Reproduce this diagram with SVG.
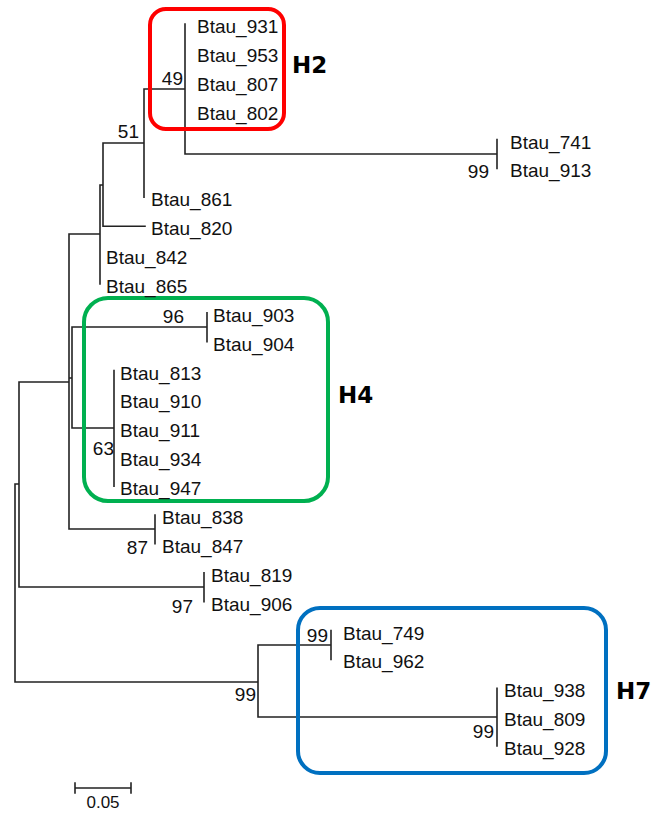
<svg xmlns="http://www.w3.org/2000/svg" width="651" height="813" viewBox="0 0 651 813">
<style>
.br{fill:none;stroke:#222;stroke-width:1.6;stroke-linecap:square}
.lf{font-family:"Liberation Sans",Arial,sans-serif;font-size:19px;fill:#111}
.bs{font-family:"Liberation Sans",Arial,sans-serif;font-size:19px;fill:#111;text-anchor:end}
.hl{font-family:"DejaVu Sans","Liberation Sans",sans-serif;font-size:23px;font-weight:bold;fill:#000}
.box{fill:none;stroke-width:4}
</style>
<rect width="651" height="813" fill="#fff"/>
<g id="connectors">
<path class="br" d="M15 484V682M15 484H19M15 682H258
M19 382V587M19 382H69M19 587H204
M204 572.7V601.6
M69 234V529M69 234H100M69 378H72M69 529H155
M155 515V543.8
M100 185V283.9M100 185H103
M103 143V226.2M103 143H144M103 226.2H145
M144 89V197.3M144 89H185
M185 24V154M185 154H497
M497 139.5V168.4
M72 327V428M72 327H207M72 428H114
M207 312.8V341.7
M114 370.6V486.1
M258 645V717M258 645H331M258 717H497
M331 630.5V659.4
M497 688.2V746"/>
</g>
<g id="clade-H2">
<rect class="box" x="150" y="9" width="134" height="120" rx="16" stroke="#ff0000"/>
<text class="hl" x="292" y="73">H2</text>
</g>
<g id="clade-H4">
<rect class="box" x="84" y="298" width="244" height="203" rx="24" stroke="#00b050"/>
<text class="hl" x="338" y="403">H4</text>
</g>
<g id="clade-H7">
<rect class="box" x="298" y="608" width="308" height="165" rx="22" stroke="#0070c0"/>
<text class="hl" x="616" y="699">H7</text>
</g>
<g id="leaves">
<g id="Btau_931"><text class="lf" x="197" y="33">Btau_931</text></g>
<g id="Btau_953"><text class="lf" x="197" y="61.9">Btau_953</text></g>
<g id="Btau_807"><text class="lf" x="197" y="90.8">Btau_807</text></g>
<g id="Btau_802"><text class="lf" x="197" y="119.6">Btau_802</text></g>
<g id="Btau_741"><text class="lf" x="510" y="148.5">Btau_741</text></g>
<g id="Btau_913"><text class="lf" x="510" y="177.4">Btau_913</text></g>
<g id="Btau_861"><text class="lf" x="151" y="206.3">Btau_861</text></g>
<g id="Btau_820"><text class="lf" x="151" y="235.2">Btau_820</text></g>
<g id="Btau_842"><text class="lf" x="106" y="264">Btau_842</text></g>
<g id="Btau_865"><text class="lf" x="106" y="292.9">Btau_865</text></g>
<g id="Btau_903"><text class="lf" x="213" y="321.8">Btau_903</text></g>
<g id="Btau_904"><text class="lf" x="213" y="350.7">Btau_904</text></g>
<g id="Btau_813"><text class="lf" x="120" y="379.6">Btau_813</text></g>
<g id="Btau_910"><text class="lf" x="120" y="408.4">Btau_910</text></g>
<g id="Btau_911"><text class="lf" x="120" y="437.3">Btau_911</text></g>
<g id="Btau_934"><text class="lf" x="120" y="466.2">Btau_934</text></g>
<g id="Btau_947"><text class="lf" x="120" y="495.1">Btau_947</text></g>
<g id="Btau_838"><text class="lf" x="162" y="524">Btau_838</text></g>
<g id="Btau_847"><text class="lf" x="162" y="552.8">Btau_847</text></g>
<g id="Btau_819"><text class="lf" x="211" y="581.7">Btau_819</text></g>
<g id="Btau_906"><text class="lf" x="211" y="610.6">Btau_906</text></g>
<g id="Btau_749"><text class="lf" x="343" y="639.5">Btau_749</text></g>
<g id="Btau_962"><text class="lf" x="343" y="668.4">Btau_962</text></g>
<g id="Btau_938"><text class="lf" x="504" y="697.2">Btau_938</text></g>
<g id="Btau_809"><text class="lf" x="504" y="726.1">Btau_809</text></g>
<g id="Btau_928"><text class="lf" x="504" y="755">Btau_928</text></g>
</g>
<g id="bootstrap">
<text class="bs" x="183" y="85">49</text>
<text class="bs" x="139" y="138">51</text>
<text class="bs" x="489" y="178">99</text>
<text class="bs" x="184" y="323">96</text>
<text class="bs" x="114" y="455">63</text>
<text class="bs" x="148" y="554">87</text>
<text class="bs" x="193" y="613">97</text>
<text class="bs" x="256" y="701">99</text>
<text class="bs" x="328" y="642">99</text>
<text class="bs" x="494" y="738">99</text>
</g>
<g id="scale-bar">
<path class="br" d="M75 788H131M75 783V793M131 783V793"/>
<text class="lf" x="103" y="808" text-anchor="middle" style="font-size:17px">0.05</text>
</g>
</svg>
